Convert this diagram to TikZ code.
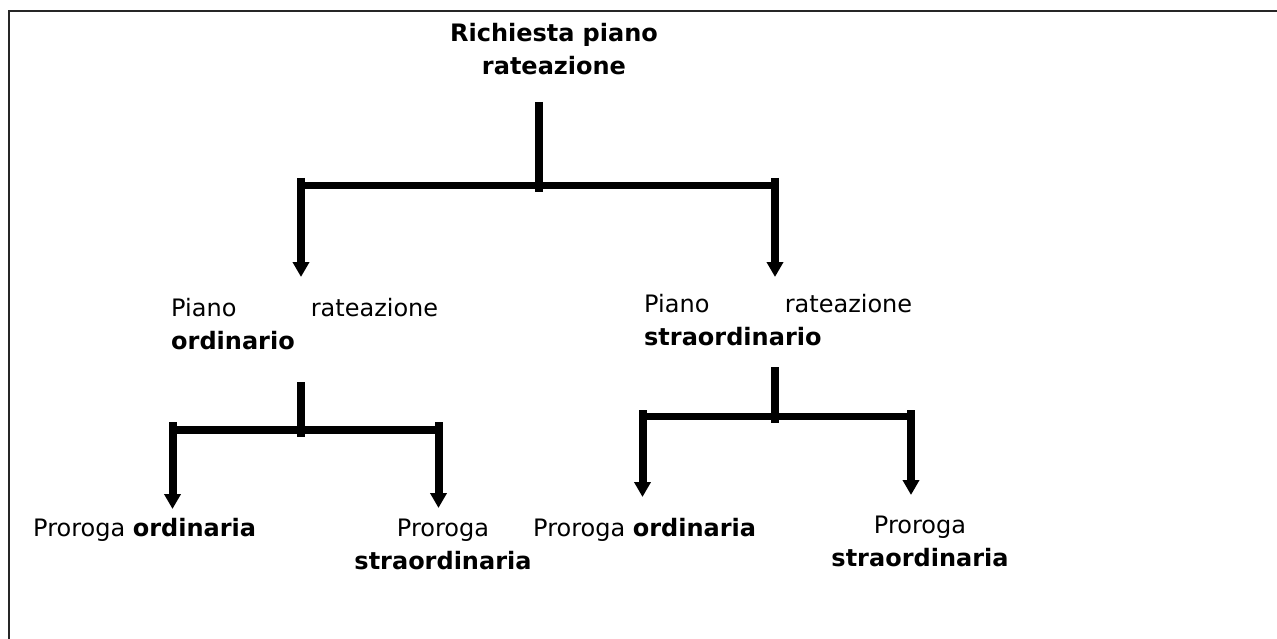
\documentclass[tikz,border=0pt]{standalone}
\usepackage{fontspec}
\setmainfont{DejaVu Sans}
\usetikzlibrary{arrows.meta}

\tikzset{
    stem/.style={line width=8pt},
    bar/.style={line width=7.5pt, line cap=rect},
    drop/.style={line width=8pt, -{Triangle[width=16pt,length=15pt]}},
    txt/.style={inner sep=0pt, font=\fontsize{24}{33}\selectfont},
}

\begin{document}
\begin{tikzpicture}[x=1pt,y=-1pt]
    \useasboundingbox (0,0) rectangle (1277,639);
    %\draw[help lines] (0,0) grid[step=50] (1277,639);
    \draw[line width=1.6pt, black!85] (9.2,650) -- (9.2,11) -- (1290,11);

    % texts
    \node[txt, anchor=base, text width=280pt, align=center] (title) at (554,42)
        {\textbf{Richiesta piano\\rateazione}};
    \node[txt, anchor=base west, text width=267pt, align=left] (pianoOrd) at (171,316)
        {Piano\hfill rateazione\\\textbf{ordinario}};
    \node[txt, anchor=base west, text width=268pt, align=left] (pianoStr) at (644,312)
        {Piano\hfill rateazione\\\textbf{straordinario}};
    \node[txt, anchor=base west] (proOrdA) at (33,536) {Proroga \textbf{ordinaria}};
    \node[txt, anchor=base, text width=200pt, align=center] (proStrA) at (443,536)
        {Proroga\\\textbf{straordinaria}};
    \node[txt, anchor=base west] (proOrdB) at (533,536.5) {Proroga \textbf{ordinaria}};
    \node[txt, anchor=base, text width=200pt, align=center] (proStrB) at (920,533)
        {Proroga\\\textbf{straordinaria}};

    % first level
    \coordinate (top1) at (539,102);
    \coordinate (mid1) at (539,192.5);
    \coordinate (barL1) at (301,185.5);
    \coordinate (barR1) at (775,185.5);
    \draw[stem] (top1) -- (mid1);
    \draw[bar] (barL1) -- (barR1);
    \draw[drop] (301,178) -- (301,277);
    \draw[drop] (775,178) -- (775,277);

    % second level, left
    \coordinate (top2) at (301,382);
    \coordinate (mid2) at (301,437);
    \coordinate (barL2) at (172.5,430);
    \coordinate (barR2) at (438.5,430);
    \draw[stem] (top2) -- (mid2);
    \draw[bar] (barL2) -- (barR2);
    \draw[drop] (172.5,422) -- (172.5,509);
    \draw[drop] (438.5,422) -- (438.5,508);

    % second level, right
    \coordinate (top3) at (775,367);
    \coordinate (mid3) at (775,423);
    \coordinate (barL3) at (642.5,416.5);
    \coordinate (barR3) at (911,416.5);
    \draw[stem] (top3) -- (mid3);
    \draw[bar] (barL3) -- (barR3);
    \draw[drop] (642.5,410) -- (642.5,497);
    \draw[drop] (911,410) -- (911,495);

\end{tikzpicture}
\end{document}
